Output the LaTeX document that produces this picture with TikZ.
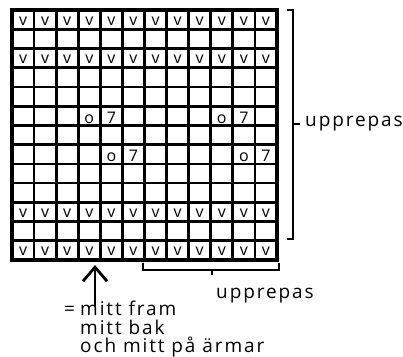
\documentclass[tikz,border=0pt]{standalone}
\usepackage{fontspec}
\setmainfont{Open Sans}[LetterSpace=10]
\usetikzlibrary{arrows.meta}
\begin{document}
\begin{tikzpicture}[x=1pt,y=-1pt,
  celltext/.style={font=\fontsize{16}{16}\selectfont, inner sep=0pt, anchor=base},
  lbl/.style={font=\fontsize{19}{20}\selectfont, inner sep=0pt, anchor=base west},
  gridline/.style={line width=2.7pt},
  border/.style={line width=3.4pt},
  brk/.style={line width=2.6pt, line cap=butt, line join=miter},
  arr/.style={line width=2.8pt, -{Straight Barb[length=14pt,width=24pt,line width=2.8pt]}}]
\useasboundingbox (0,0) rectangle (403,356);
\def\cw{22.0833}
\def\rh{19.2308}
% grid
\foreach \i in {1,...,11} \draw[gridline] ({12+\i*\cw},10) -- ({12+\i*\cw},260);
\foreach \j in {1,...,12} \draw[gridline] (12,{10+\j*\rh}) -- (277,{10+\j*\rh});
\draw[border] (12,10) rectangle (277,260);
% v rows
\foreach \r in {1,3,11,13}
  \foreach \c in {1,...,12}
    \node[celltext] (v\r-\c) at ({12+(\c-0.5)*\cw},{10+(\r-0.5)*\rh+5.5}) {v};
% o 7 cells
\foreach \r/\c in {6/4,6/10,8/5,8/11}{
  \node[celltext] (o\r-\c) at ({12+(\c-0.5)*\cw},{10+(\r-0.5)*\rh+7.5}) {o};
  \node[celltext] (s\r-\c) at ({12+(\c+0.5)*\cw},{10+(\r-0.5)*\rh+7.5}) {7};
}
% right bracket
\coordinate (rb1) at (287,10);
\coordinate (rb2) at (293,10);
\coordinate (rb3) at (293,239);
\coordinate (rb4) at (287,239);
\coordinate (rbm) at (293,124);
\coordinate (rbt) at (300,124);
\draw[brk] (rb1) -- (rb2) -- (rb3) -- (rb4);
\draw[brk] (rbm) -- (rbt);
\node[lbl] (rlabel) at (305,126) {upprepas};
% bottom bracket
\coordinate (bb1) at (143,263);
\coordinate (bb2) at (143,270);
\coordinate (bb3) at (279,270);
\coordinate (bb4) at (279,263);
\coordinate (bbm) at (212,270);
\coordinate (bbt) at (212,275);
\draw[brk] (bb1) -- (bb2) -- (bb3) -- (bb4);
\draw[brk] (bbm) -- (bbt);
\node[lbl] (blabel) at (216,298) {upprepas};
% arrow and note
\coordinate (atail) at (95,306);
\coordinate (ahead) at (95,265);
\draw[arr] (atail) -- (ahead);
\node[lbl] (eq) at (64,315) {=};
\node[lbl] (l1) at (80,315) {mitt fram};
\node[lbl] (l2) at (80,334) {mitt bak};
\node[lbl] (l3) at (80,352) {och mitt på ärmar};
\end{tikzpicture}
\end{document}
